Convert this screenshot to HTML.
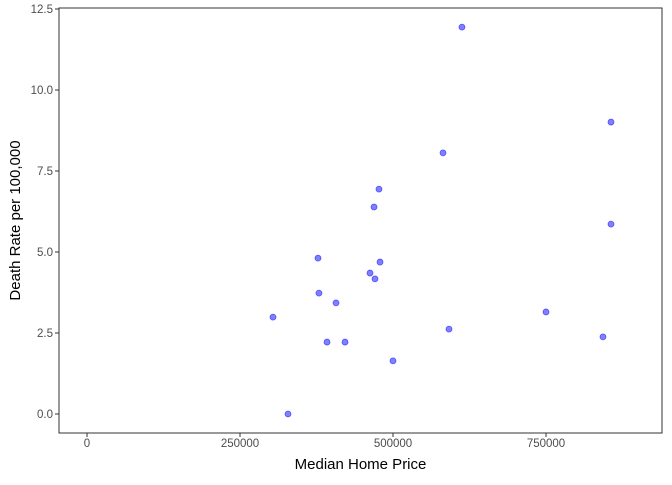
<!DOCTYPE html>
<html><head><meta charset="utf-8"><style>
body{margin:0;background:#fff;font-family:"Liberation Sans",Arial,sans-serif}
</style></head><body>
<svg id="chart" width="672" height="480" xmlns="http://www.w3.org/2000/svg"></svg>
<script>
const homePrices=[303900,328400,377450,379000,392200,406900,421600,462400,470600,469000,477100,478800,500000,581700,591500,612700,750000,843100,856200,856200];
const deathRates=[2.99,0,4.81,3.73,2.22,3.43,2.22,4.35,4.17,6.39,6.94,4.69,1.64,8.06,2.62,11.94,3.15,2.38,9.01,5.86];
const xTicks=[0,250000,500000,750000];
const yTicks=[0,2.5,5,7.5,10,12.5];
const yTickLabels=["0.0","2.5","5.0","7.5","10.0","12.5"];
const svg=document.getElementById('chart');
const NS='http://www.w3.org/2000/svg';
const L=59,R=662,T=8,B=433;
const sx=v=>87+v*(153/250000);
const sy=v=>414-v*(81/2.5);
function mk(tag,attrs,text){const e=document.createElementNS(NS,tag);for(const k in attrs)e.setAttribute(k,attrs[k]);if(text!==undefined)e.textContent=text;svg.appendChild(e);return e;}
const panel=mk('rect',{x:L,y:T,width:R-L,height:B-T,fill:'#fff',stroke:'#333','stroke-width':1});


xTicks.forEach(t=>{
  const l=mk('line',{x1:sx(t),x2:sx(t),y1:B,y2:B+4,stroke:'#333'});
  
  
  const tx=mk('text',{x:sx(t),y:B+14,'text-anchor':'middle','font-size':11.5,fill:'#4d4d4d'},String(t));
  
  
});
yTicks.forEach((t,i)=>{
  const l=mk('line',{x1:L-4,x2:L,y1:sy(t),y2:sy(t),stroke:'#333'});
  
  
  const tx=mk('text',{x:L-6,y:sy(t)+4,'text-anchor':'end','font-size':11.5,fill:'#4d4d4d'},yTickLabels[i]);
  
  
});
homePrices.forEach((p,i)=>{
  const c=mk('circle',{cx:sx(p),cy:sy(deathRates[i]),r:3,fill:'rgba(0,0,255,0.5)',stroke:'rgba(0,0,255,0.55)','stroke-width':0.8});
  
  
});
const xt=mk('text',{x:(L+R)/2,y:469,'text-anchor':'middle','font-size':15,fill:'#000'},'Median Home Price');


const yt=mk('text',{x:0,y:0,'text-anchor':'middle','font-size':15,fill:'#000',transform:`translate(20,${(T+B)/2}) rotate(-90)`},'Death Rate per 100,000');


</script>
</body></html>
